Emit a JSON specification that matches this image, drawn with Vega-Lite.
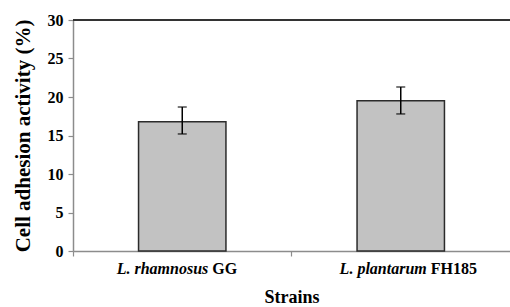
{
  "$schema": "https://vega.github.io/schema/vega-lite/v6.json",
  "autosize": "none",
  "width": 437,
  "height": 231,
  "padding": {"left": 73, "top": 20, "right": 0, "bottom": 56},
  "background": "white",
  "config": {
    "view": {"stroke": null},
    "font": "Liberation Serif",
    "axis": {
      "labelFont": "Liberation Serif",
      "titleFont": "Liberation Serif",
      "domainColor": "#8c8c8c",
      "domainWidth": 1.5,
      "tickColor": "#8c8c8c",
      "tickSize": 5,
      "tickWidth": 1.2,
      "labelColor": "black",
      "titleColor": "black",
      "labelFontWeight": "bold",
      "titleFontWeight": "bold",
      "grid": false
    },
    "axisY": {
      "labelFontSize": 16,
      "labelPadding": 5,
      "titleFontSize": 21,
      "titlePadding": 14,
      "labelOverlap": false
    },
    "axisX": {
      "titleFontSize": 18,
      "titlePadding": 32
    }
  },
  "data": {
    "values": [
      {"strain": "L. rhamnosus GG", "species": "L. rhamnosus", "code": "GG", "value": 16.8, "lower": 15.2, "upper": 18.7},
      {"strain": "L. plantarum FH185", "species": "L. plantarum", "code": "FH185", "value": 19.5, "lower": 17.8, "upper": 21.3}
    ]
  },
  "encoding": {
    "x": {
      "field": "strain",
      "type": "nominal",
      "sort": null,
      "scale": {"paddingInner": 0, "paddingOuter": 0},
      "axis": {"title": "Strains", "labels": false, "bandPosition": 0}
    },
    "y": {
      "field": "value",
      "type": "quantitative",
      "scale": {"domain": [0, 30], "nice": false, "zero": true},
      "axis": {
        "title": "Cell adhesion activity (%)",
        "values": [0, 5, 10, 15, 20, 25, 30],
        "tickCount": 7,
        "labelOverlap": false,
        "labelFont": "Liberation Serif",
        "labelFontSize": 16
      }
    }
  },
  "layer": [
    {
      "mark": {"type": "bar", "width": {"band": 0.4}, "fill": "#c2c2c2", "stroke": "#2b2b2b", "strokeWidth": 1.5}
    },
    {
      "mark": {"type": "rule", "color": "#333333", "strokeWidth": 1.8},
      "encoding": {"x": null, "y": {"datum": 30}}
    },
    {
      "mark": {"type": "rule", "color": "black", "strokeWidth": 1.5},
      "encoding": {
        "y": {"field": "lower", "type": "quantitative"},
        "y2": {"field": "upper"}
      }
    },
    {
      "mark": {"type": "tick", "color": "black", "size": 9, "thickness": 1.5},
      "encoding": {"y": {"field": "upper", "type": "quantitative"}}
    },
    {
      "mark": {"type": "tick", "color": "black", "size": 9, "thickness": 1.5},
      "encoding": {"y": {"field": "lower", "type": "quantitative"}}
    },
    {
      "mark": {"type": "text", "align": "right", "baseline": "middle", "dx": 26, "dy": 18, "font": "Liberation Serif", "fontSize": 16, "fontWeight": "bold", "fontStyle": "italic", "color": "black"},
      "encoding": {
        "y": {"datum": 0},
        "text": {"field": "species"}
      }
    },
    {
      "mark": {"type": "text", "align": "left", "baseline": "middle", "dx": 30, "dy": 18, "font": "Liberation Serif", "fontSize": 16, "fontWeight": "bold", "color": "black"},
      "encoding": {
        "y": {"datum": 0},
        "text": {"field": "code"}
      }
    }
  ]
}
